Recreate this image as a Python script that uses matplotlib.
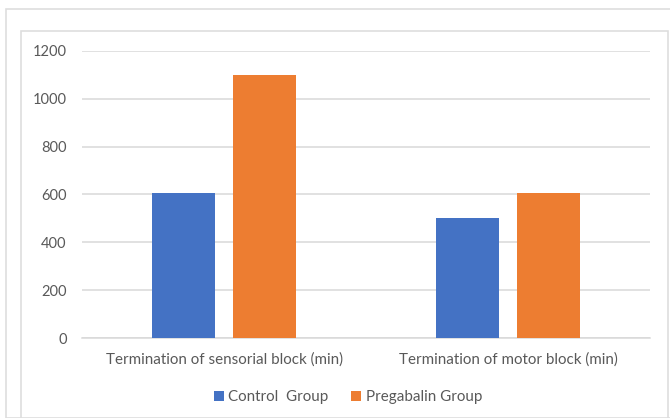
import matplotlib
matplotlib.use("Agg")
import matplotlib.pyplot as plt
from matplotlib.patches import Rectangle
import numpy as np

categories = ["Termination of sensorial block (min)", "Termination of motor block (min)"]
control_values = [605, 500]
pregabalin_values = [1100, 605]
series_names = ["Control  Group", "Pregabalin Group"]
y_ticks = [0, 200, 400, 600, 800, 1000, 1200]

W, H = 670, 418
plt.rcParams['font.family'] = ['Lato', 'DejaVu Sans']

fig = plt.figure(figsize=(W / 100, H / 100), dpi=100)

# chart borders (Excel style frames)
border = '#dedede'
fig.patches.append(Rectangle((6 / W, 0), 1, 1 - 9 / H, transform=fig.transFigure,
                             fill=False, edgecolor=border, linewidth=1.2))
fig.patches.append(Rectangle((21 / W, -0.1), (668 - 21) / W, 1.1 - 31 / H, transform=fig.transFigure,
                             fill=False, edgecolor=border, linewidth=1.2))

ax = fig.add_axes([82 / W, 1 - 338 / H, (650 - 82) / W, (338 - 51) / H])

x = np.arange(len(categories))
width = 0.222
offset = 0.143
ax.bar(x - offset, control_values, width, color='#4472C4', label=series_names[0], zorder=3)
ax.bar(x + offset, pregabalin_values, width, color='#ED7D31', label=series_names[1], zorder=3)

ax.set_xlim(-0.5, 1.5)
ax.set_ylim(0, 1200)
ax.set_yticks(y_ticks)
ax.set_xticks(x)
ax.set_xticklabels(categories)
ax.yaxis.grid(True, color='#d9d9d9', linewidth=1.1, zorder=0)
ax.set_axisbelow(True)
for s in ['top', 'right', 'left']:
    ax.spines[s].set_visible(False)
ax.spines['bottom'].set_color('#d9d9d9')
ax.spines['bottom'].set_linewidth(1.1)
ax.tick_params(axis='both', length=0, colors='#595959')
ax.tick_params(axis='y', pad=11, labelsize=10.5)
ax.tick_params(axis='x', pad=10, labelsize=10.9)

fig.legend(loc='center', bbox_to_anchor=(348 / W, 1 - 397 / H), ncol=2, frameon=False,
           fontsize=10.9, handlelength=0.65, handleheight=0.65, handletextpad=0.3,
           columnspacing=1.5, labelcolor='#595959')

fig.savefig('out.png', dpi=100)
